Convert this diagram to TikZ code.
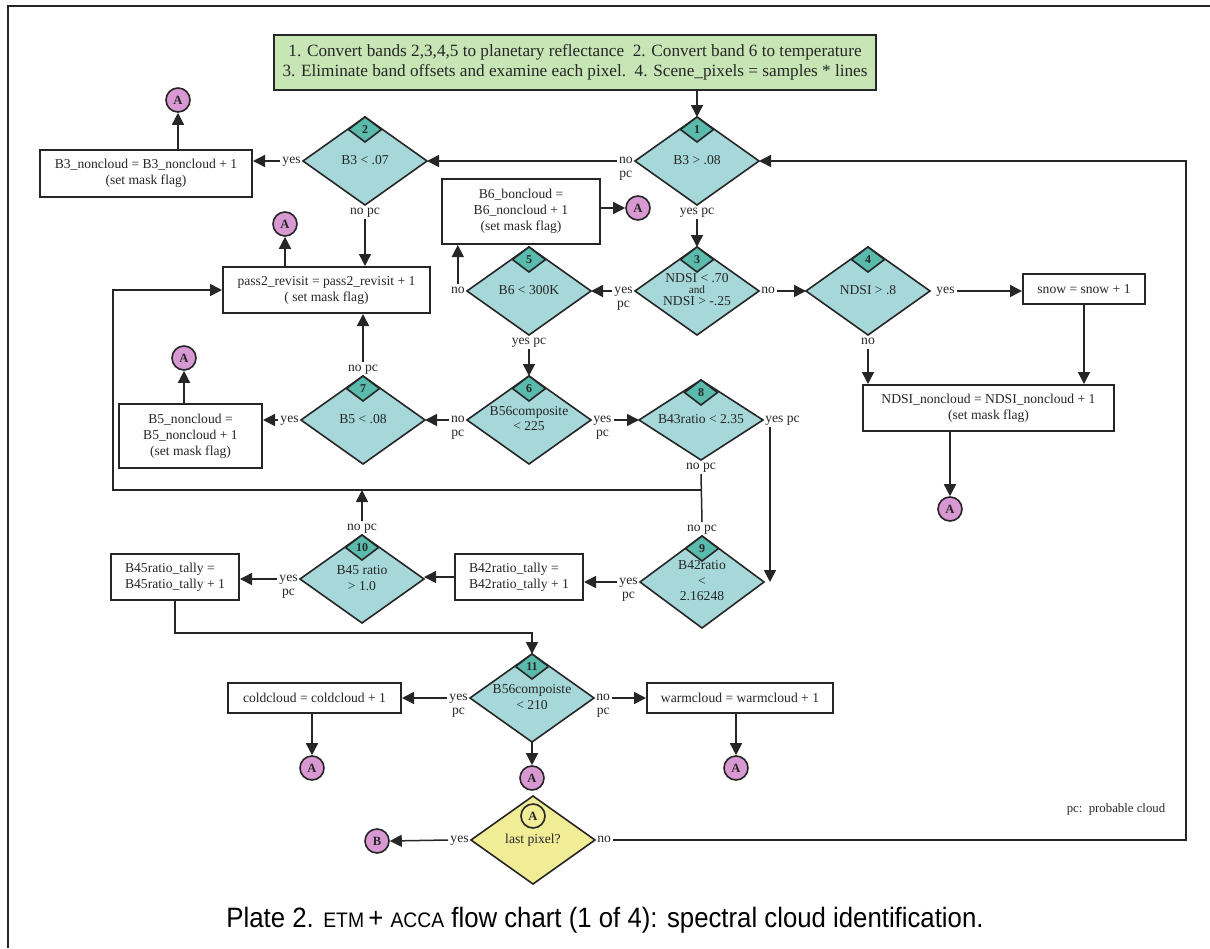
\documentclass[tikz,border=0pt]{standalone}
\usepackage{fontspec}
\usepackage{graphicx}
\setmainfont{Liberation Serif}
\newfontfamily\capfont{Liberation Sans}
\usetikzlibrary{shapes.geometric,arrows.meta,calc}
\definecolor{dia}{RGB}{166,216,218}
\definecolor{numc}{RGB}{90,186,172}
\definecolor{grn}{RGB}{200,229,182}
\definecolor{yel}{RGB}{241,236,150}
\definecolor{pnk}{RGB}{216,152,210}
\definecolor{ink}{RGB}{38,38,38}
\newcommand{\dtx}[2][1]{\makebox[0pt]{\def\arraystretch{#1}\begin{tabular}{@{}c@{}}#2\end{tabular}}}
\tikzset{
  base/.style={font=\fontsize{6.8}{8}\selectfont, text=ink},
  box/.style={base, draw=ink, line width=1pt, fill=white, rectangle, inner sep=0pt, align=center},
  dec/.style={base, draw=ink, line width=0.8pt, fill=dia, diamond, inner sep=0pt, outer sep=0pt, minimum width=62pt, minimum height=44pt},
  num/.style={draw=ink, line width=0.8pt, fill=numc, diamond, inner sep=0pt, outer sep=0pt, minimum width=16.5pt, minimum height=12.5pt, font=\fontsize{6}{6}\selectfont\bfseries, text=ink},
  conn/.style={circle, draw=ink, line width=0.8pt, fill=pnk, minimum size=12pt, inner sep=0pt, font=\fontsize{6.3}{7}\selectfont\bfseries, text=ink},
  lbl/.style={base, inner sep=1pt, text height=3.4pt, text depth=1.2pt},
  arr/.style={draw=ink, line width=0.75pt, -{Triangle[length=6pt,width=6pt]}},
  ln/.style={draw=ink, line width=0.75pt},
}
\begin{document}
\begin{tikzpicture}[x=0.5pt,y=-0.5pt]
\useasboundingbox (0,0) rectangle (1210,948);
% frame
\draw[draw=ink, line width=1pt] (8,948) -- (8,6) -- (1210,6);

% boxes
\node[box, fill=grn, minimum width=301pt, minimum height=27.5pt, font=\fontsize{8.6}{10}\selectfont] (G) at (575,62.5)
  {1. Convert bands 2,3,4,5 to planetary reflectance\ \ 2. Convert band 6 to temperature\\3. Eliminate band offsets and examine each pixel.\ \ 4. Scene\_pixels = samples * lines};
\node[box, minimum width=106pt, minimum height=23.5pt] (B3) at (146,173.5) {B3\_noncloud = B3\_noncloud + 1\\(set mask flag)};
\node[box, minimum width=79pt, minimum height=32.5pt] (B6) at (521,211.5) {B6\_boncloud =\\B6\_noncloud + 1\\(set mask flag)};
\node[box, minimum width=103.5pt, minimum height=23pt] (P2) at (326.5,290) {pass2\_revisit = pass2\_revisit + 1\\( set mask flag)};
\node[box, minimum width=61pt, minimum height=15pt] (SN) at (1084,289) {snow = snow + 1};
\node[box, minimum width=125.5pt, minimum height=23pt] (ND) at (988.5,408) {NDSI\_noncloud = NDSI\_noncloud + 1\\(set mask flag)};
\node[box, minimum width=71.5pt, minimum height=32pt] (B5) at (190.5,436) {B5\_noncloud =\\B5\_noncloud + 1\\(set mask flag)};
\node[box, align=left, minimum width=64pt, minimum height=23pt] (B42) at (519,577) {B42ratio\_tally =\\B42ratio\_tally + 1};
\node[box, align=left, minimum width=64pt, minimum height=23pt] (B45) at (175,577) {B45ratio\_tally =\\B45ratio\_tally + 1};
\node[box, minimum width=86.5pt, minimum height=15pt] (CC) at (314.5,698) {coldcloud = coldcloud + 1};
\node[box, minimum width=93pt, minimum height=15pt] (WC) at (740,698) {warmcloud = warmcloud + 1};

% decisions
\node[dec] (D1) at (697,161) {\dtx{B3 > .08}};
\node[dec] (D2) at (365,161) {\dtx{B3 < .07}};
\node[dec] (D3) at (697,291) {\raisebox{-1pt}{\dtx[0.62]{NDSI < .70\\{\fontsize{5.6}{6}\selectfont and}\\NDSI > -.25}}};
\node[dec] (D4) at (868,291) {\dtx{NDSI > .8}};
\node[dec] (D5) at (529,291) {\dtx{B6 < 300K}};
\node[dec] (D6) at (529,420) {\dtx[0.9]{B56composite\\< 225}};
\node[dec] (D7) at (363,420) {\dtx{B5 < .08}};
\node[dec, minimum height=40pt] (D8) at (701,420) {\dtx{B43ratio < 2.35}};
\node[dec, minimum height=46pt] (D9) at (702,582) {\raisebox{-1.5pt}{\dtx[0.95]{B42ratio\\<\\2.16248}}};
\node[dec] (D10) at (362,579) {\dtx{B45 ratio\\> 1.0}};
\node[dec] (D11) at (532,698) {\dtx{B56compoiste\\< 210}};
\node[dec, fill=yel] (DY) at (533,840) {\dtx{last pixel?}};
\foreach \d/\n in {D1/1,D2/2,D3/3,D4/4,D5/5,D6/6,D7/7,D8/8,D9/9,D10/10,D11/11}
  \node[num] (\d-n) at ([yshift=-6.25pt]\d.north) {\n};
\node[circle, draw=ink, line width=0.8pt, minimum size=12pt, inner sep=0pt, font=\fontsize{6.3}{7}\selectfont\bfseries, text=ink] (DYA) at ([yshift=-10pt]DY.north) {A};

% connectors (off-page)
\node[conn] (A1) at (178,100) {A};
\node[conn] (A2) at (285,224) {A};
\node[conn] (A3) at (638,208) {A};
\node[conn] (A4) at (950,509) {A};
\node[conn] (A5) at (184,358) {A};
\node[conn] (A6) at (312,768) {A};
\node[conn] (A7) at (736,768) {A};
\node[conn] (A8) at (532,778) {A};
\node[conn] (BB) at (377,841) {B};

% labels
\node[lbl, anchor=east] (L1) at (D1.west) {no};
\node[lbl, anchor=north] (L1p) at (L1.south) {pc};
\node[lbl, anchor=east] (L2) at (D2.west) {yes};
\node[lbl, anchor=north] (L3) at (D2.south) {no pc};
\node[lbl, anchor=north] (L4) at (D1.south) {yes pc};
\node[lbl, anchor=east] (L5) at (D3.west) {yes};
\node[lbl, anchor=north] (L5p) at (L5.south) {pc};
\node[lbl, anchor=east] (L6) at (D5.west) {no};
\node[lbl, anchor=west] (L7) at (D3.east) {no};
\node[lbl, anchor=west, xshift=2pt] (L8) at (D4.east) {yes};
\node[lbl, anchor=north] (L9) at (D4.south) {no};
\node[lbl, anchor=north] (L10) at (D5.south) {yes pc};
\node[lbl, anchor=south] (L11) at (D7.north) {no pc};
\node[lbl, anchor=east] (L12) at (D7.west) {yes};
\node[lbl, anchor=east] (L13) at (D6.west) {no};
\node[lbl, anchor=north] (L13p) at (L13.south) {pc};
\node[lbl, anchor=west] (L14) at (D6.east) {yes};
\node[lbl, anchor=north] (L14p) at (L14.south) {pc};
\node[lbl, anchor=west] (L15) at (D8.east) {yes pc};
\node[lbl, anchor=north] (L16) at (D8.south) {no pc};
\node[lbl, anchor=south] (L17) at (D9.north) {no pc};
\node[lbl, anchor=south] (L18) at (D10.north) {no pc};
\node[lbl, anchor=east] (L19) at (D9.west) {yes};
\node[lbl, anchor=north] (L19p) at (L19.south) {pc};
\node[lbl, anchor=east] (L20) at (D10.west) {yes};
\node[lbl, anchor=north] (L20p) at (L20.south) {pc};
\node[lbl, anchor=east] (L21) at (D11.west) {yes};
\node[lbl, anchor=north] (L21p) at (L21.south) {pc};
\node[lbl, anchor=west] (L22) at (D11.east) {no};
\node[lbl, anchor=north] (L22p) at (L22.south) {pc};
\node[lbl, anchor=east] (L23) at (DY.west) {yes};
\node[lbl, anchor=west] (L24) at (DY.east) {no};
\node[base, font=\fontsize{6.4}{8}\selectfont] (PC) at (1116,809) {pc:\ \ probable cloud};

\coordinate (J) at (702,490);
\coordinate (LC) at (113,490);
\coordinate (RX) at (1186,161);

% edges
\draw[arr] (G.south -| D1) -- (D1.north);
\draw[arr] (L1.west) -- (D2.east);
\draw[arr] (L2.west) -- (L2.west -| B3.east);
\draw[arr] (B3.north -| A1) -- (A1.south);
\draw[arr] (L3.south) -- (L3.south |- P2.north);
\draw[arr] (P2.north -| A2) -- (A2.south);
\draw[arr] (L4.south) -- (D3.north);
\draw[arr] (L5.west) -- (D5.east);
\draw[arr] (L7.east) -- (D4.west);
\draw[arr] (L8.east) -- (L8.east -| SN.west);
\draw[arr] (L9.south) -- (L9.south |- ND.north);
\draw[arr] (SN.south) -- (SN.south |- ND.north);
\draw[arr] (ND.south -| A4) -- (A4.north);
\draw[arr] (B6.east |- A3) -- (A3.west);
\draw[arr] (L6.north) -- (L6.north |- B6.south);
\draw[arr] (L10.south) -- (L10.south |- D6.north);
\draw[arr] (L13.west) -- (D7.east);
\draw[arr] (L14.east) -- (D8.west);
\draw[arr] (L11.north) -- (L11.north |- P2.south);
\draw[arr] (L12.west) -- (L12.west -| B5.east);
\draw[arr] (B5.north -| A5) -- (A5.south);
\draw[ln] (L16.south) -- (L17.north);
\draw[arr] (J) -- (LC) |- (P2.west);
\draw[arr] (L18.north) -- (L18.north |- J);
\draw[arr] ([xshift=3.5pt]L15.south west) -- ([xshift=3.5pt]L15.south west |- D9.east);
\draw[arr] (L19.west) -- (L19.west -| B42.east);
\draw[arr] (B42.west) -- (B42.west -| D10.east);
\draw[arr] (L20.west) -- (L20.west -| B45.east);
\draw[arr] (B45.south) -- ++(0,32) -| (D11.north);
\draw[arr] (L21.west) -- (L21.west -| CC.east);
\draw[arr] (L22.east) -- (L22.east -| WC.west);
\draw[arr] (CC.south -| A6) -- (A6.north);
\draw[arr] (WC.south -| A7) -- (A7.north);
\draw[arr] (D11.south) -- (A8.north);
\draw[arr] (L23.west) -- (BB.east);
\draw[arr] (L24.east) -| (RX) -- (D1.east);

% caption
\node[font=\capfont\fontsize{14}{16}\selectfont, text=black] (CAP) at (605,920)
  {\scalebox{0.92}[1]{Plate 2. {\fontsize{10.5}{12}\selectfont ETM}\thinspace+ {\fontsize{10.5}{12}\selectfont ACCA} flow chart (1 of 4): spectral cloud identification.}};
\end{tikzpicture}
\end{document}
